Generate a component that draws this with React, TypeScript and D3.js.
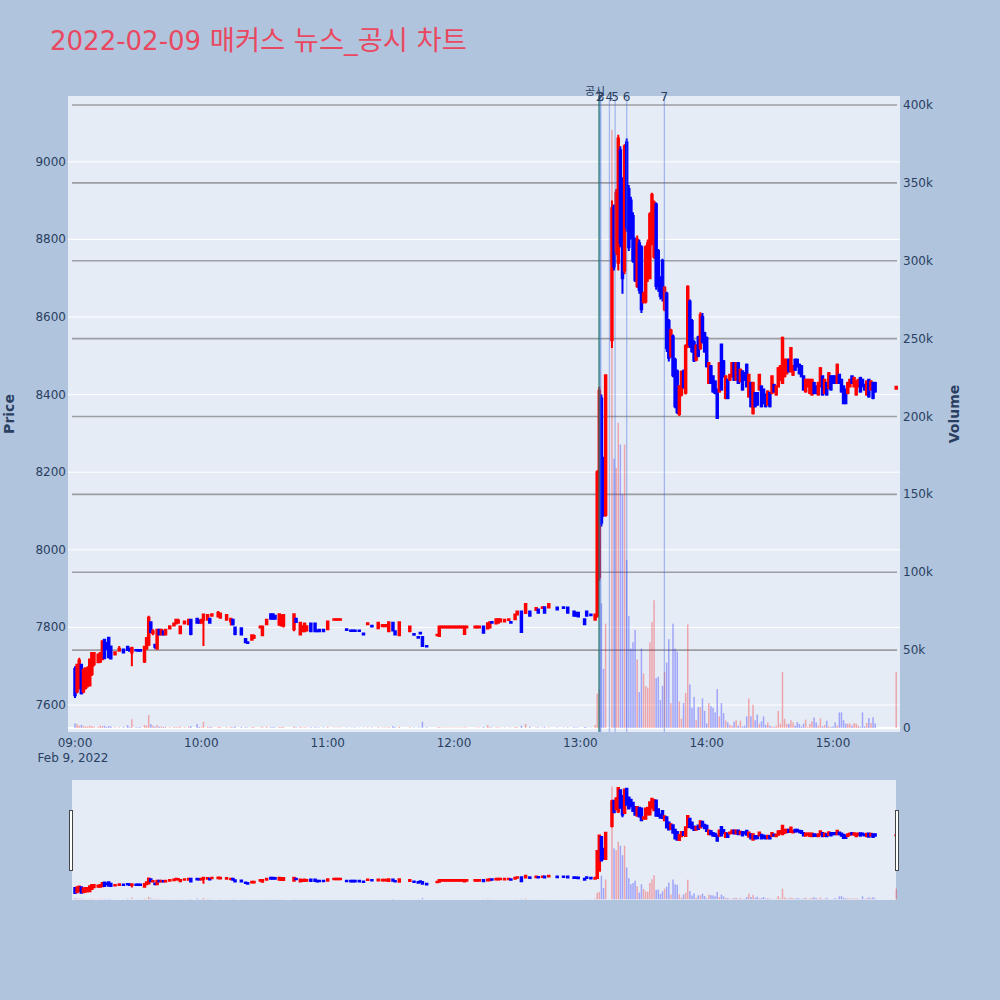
import React from "react";
import * as d3 from "d3";

type Bar = [number, number, number, number, number, number]; // minute after 09:00, open, high, low, close, volume

const morningBars: Bar[] = [
  [0, 7693, 7700, 7618, 7625, 3000], [1, 7635, 7706, 7630, 7704, 2500], [2, 7650, 7722, 7640, 7715, 1500],
  [3, 7704, 7706, 7627, 7630, 2000], [4, 7635, 7695, 7630, 7690, 1200], [5, 7644, 7697, 7640, 7695, 1000],
  [6, 7650, 7700, 7645, 7693, 900], [7, 7650, 7720, 7648, 7717, 1500], [8, 7680, 7736, 7675, 7734, 1200],
  [9, 7705, 7736, 7700, 7734, 800], [11, 7710, 7732, 7708, 7730, 600], [12, 7712, 7736, 7708, 7734, 1500],
  [13, 7718, 7766, 7716, 7764, 1200], [14, 7768, 7770, 7718, 7721, 1500], [15, 7760, 7762, 7742, 7745, 700],
  [16, 7773, 7775, 7720, 7724, 1200], [17, 7751, 7753, 7718, 7720, 1000], [19, 7730, 7738, 7728, 7736, 500],
  [21, 7740, 7752, 7738, 7745, 400], [23, 7743, 7745, 7733, 7735, 600], [25, 7750, 7752, 7740, 7742, 1800],
  [26, 7745, 7747, 7738, 7740, 500], [27, 7735, 7750, 7700, 7747, 5600], [29, 7742, 7744, 7739, 7741, 500],
  [30, 7742, 7744, 7738, 7740, 400], [31, 7742, 7744, 7738, 7740, 600], [33, 7712, 7752, 7708, 7750, 2000],
  [34, 7745, 7775, 7743, 7772, 1500], [35, 7755, 7830, 7752, 7825, 8300], [36, 7813, 7815, 7785, 7788, 2500],
  [37, 7785, 7795, 7780, 7790, 1500], [38, 7755, 7757, 7745, 7750, 800], [39, 7745, 7796, 7743, 7794, 1800],
  [40, 7794, 7796, 7780, 7782, 800], [41, 7782, 7796, 7780, 7794, 900], [42, 7790, 7792, 7780, 7782, 600],
  [43, 7782, 7796, 7780, 7794, 700], [45, 7797, 7805, 7795, 7803, 500], [47, 7805, 7812, 7803, 7810, 500],
  [48, 7810, 7822, 7808, 7820, 600], [49, 7812, 7822, 7810, 7818, 400], [50, 7785, 7805, 7783, 7802, 900],
  [52, 7810, 7818, 7808, 7815, 500], [54, 7808, 7822, 7806, 7820, 800], [55, 7820, 7822, 7780, 7783, 1200],
  [58, 7822, 7824, 7810, 7812, 2600], [59, 7818, 7820, 7810, 7812, 600], [60, 7812, 7822, 7810, 7820, 500],
  [61, 7820, 7835, 7752, 7833, 4000], [63, 7820, 7834, 7818, 7832, 800], [64, 7822, 7824, 7810, 7812, 700],
  [65, 7830, 7836, 7828, 7834, 500], [68, 7828, 7842, 7826, 7838, 600], [69, 7825, 7838, 7823, 7836, 800],
  [72, 7820, 7833, 7818, 7832, 500], [74, 7815, 7824, 7805, 7822, 700], [75, 7820, 7822, 7805, 7808, 400],
  [76, 7800, 7802, 7780, 7783, 900], [79, 7798, 7800, 7780, 7782, 600], [81, 7770, 7772, 7760, 7762, 500],
  [82, 7762, 7764, 7758, 7760, 300], [84, 7768, 7782, 7766, 7780, 600], [85, 7773, 7782, 7770, 7778, 500],
  [88, 7800, 7804, 7798, 7802, 300], [89, 7780, 7804, 7778, 7802, 800], [91, 7808, 7822, 7806, 7820, 900],
  [93, 7834, 7836, 7820, 7822, 500], [94, 7834, 7836, 7820, 7822, 500], [95, 7830, 7832, 7820, 7822, 400],
  [97, 7807, 7835, 7805, 7834, 600], [98, 7805, 7834, 7803, 7830, 700], [99, 7805, 7834, 7800, 7832, 600],
  [104, 7795, 7835, 7790, 7834, 900], [105, 7822, 7824, 7812, 7814, 400], [107, 7782, 7813, 7780, 7812, 700],
  [108, 7790, 7805, 7788, 7803, 300], [109, 7790, 7812, 7788, 7810, 400], [110, 7792, 7805, 7790, 7803, 300],
  [112, 7810, 7812, 7788, 7790, 500], [114, 7810, 7812, 7788, 7790, 500], [115, 7792, 7794, 7788, 7790, 300],
  [116, 7794, 7796, 7788, 7790, 300], [118, 7794, 7796, 7788, 7790, 400], [120, 7795, 7818, 7793, 7815, 600],
  [123, 7820, 7823, 7818, 7821, 300], [124, 7820, 7823, 7818, 7821, 200], [125, 7820, 7823, 7818, 7821, 200],
  [126, 7820, 7823, 7818, 7821, 300], [129, 7795, 7797, 7792, 7793, 300], [131, 7792, 7794, 7790, 7791, 200],
  [132, 7792, 7794, 7790, 7791, 200], [133, 7792, 7794, 7790, 7791, 300], [135, 7792, 7794, 7790, 7791, 200],
  [137, 7784, 7786, 7781, 7782, 200], [139, 7808, 7812, 7806, 7811, 400], [141, 7804, 7806, 7801, 7802, 300],
  [144, 7798, 7814, 7796, 7812, 500], [146, 7803, 7808, 7801, 7806, 300], [147, 7803, 7808, 7801, 7806, 300],
  [148, 7803, 7808, 7801, 7806, 200], [149, 7790, 7815, 7788, 7813, 600], [151, 7812, 7814, 7790, 7792, 1200],
  [152, 7790, 7792, 7780, 7782, 500], [154, 7780, 7815, 7778, 7813, 700], [159, 7790, 7803, 7788, 7802, 500],
  [161, 7783, 7785, 7780, 7781, 300], [163, 7775, 7777, 7772, 7773, 300], [164, 7786, 7788, 7783, 7784, 200],
  [165, 7775, 7777, 7750, 7752, 4000], [167, 7752, 7754, 7750, 7751, 500], [172, 7780, 7783, 7778, 7781, 300],
  [173, 7778, 7804, 7776, 7802, 600], [174, 7800, 7803, 7799, 7802, 300], [175, 7800, 7803, 7799, 7802, 300],
  [176, 7800, 7803, 7799, 7802, 300], [177, 7800, 7803, 7799, 7802, 200], [178, 7800, 7803, 7799, 7802, 300],
  [179, 7800, 7803, 7799, 7802, 300], [180, 7800, 7803, 7799, 7802, 200], [181, 7800, 7803, 7799, 7802, 300],
  [182, 7800, 7803, 7799, 7802, 300], [183, 7800, 7803, 7799, 7802, 200], [184, 7800, 7803, 7799, 7802, 300],
  [185, 7783, 7805, 7781, 7802, 400], [186, 7800, 7803, 7799, 7802, 300], [190, 7800, 7803, 7799, 7802, 200],
  [191, 7800, 7803, 7799, 7802, 200], [192, 7800, 7803, 7799, 7802, 300], [194, 7802, 7804, 7784, 7786, 600],
  [196, 7797, 7813, 7795, 7811, 1800], [197, 7800, 7815, 7798, 7813, 500], [198, 7814, 7815, 7811, 7812, 300],
  [200, 7810, 7823, 7808, 7821, 400], [201, 7812, 7823, 7810, 7821, 400], [202, 7815, 7823, 7813, 7821, 300],
  [204, 7815, 7822, 7813, 7820, 300], [206, 7819, 7822, 7818, 7821, 200], [207, 7814, 7815, 7811, 7812, 200],
  [209, 7821, 7835, 7819, 7833, 600], [210, 7833, 7843, 7831, 7841, 500], [212, 7841, 7843, 7786, 7788, 1500],
  [214, 7837, 7862, 7835, 7860, 2600], [216, 7841, 7843, 7828, 7830, 800], [219, 7845, 7852, 7843, 7850, 400],
  [220, 7846, 7848, 7836, 7838, 400], [222, 7850, 7854, 7848, 7852, 300], [223, 7852, 7854, 7836, 7838, 500],
  [225, 7851, 7862, 7849, 7860, 400], [229, 7851, 7853, 7845, 7846, 300], [232, 7852, 7853, 7849, 7850, 200],
  [234, 7851, 7853, 7836, 7838, 400], [237, 7841, 7843, 7828, 7830, 500], [238, 7838, 7840, 7828, 7830, 300],
  [239, 7838, 7840, 7826, 7828, 300], [242, 7821, 7823, 7806, 7808, 600], [243, 7841, 7843, 7828, 7830, 400],
  [245, 7833, 7835, 7830, 7831, 300],
];

const spikeBars: Bar[] = [
  [247, 7820, 7835, 7818, 7833, 2000], [248, 7830, 8205, 7825, 8200, 22000], [249, 7930, 8420, 7920, 8410, 25000],
  [250, 8390, 8400, 8060, 8070, 80000], [251, 8230, 8240, 8085, 8095, 38000], [252, 8090, 8452, 8085, 8450, 67000],
  [255, 8540, 8900, 8520, 8880, 384000], [256, 8885, 8890, 8720, 8730, 173000], [257, 8770, 8930, 8760, 8920, 167000],
  [258, 8740, 9070, 8720, 9060, 196000], [259, 9030, 9040, 8780, 8790, 182000], [260, 8950, 8960, 8660, 8700, 150000],
  [261, 8720, 9045, 8710, 9040, 182000], [262, 9050, 9060, 8820, 8830, 108000], [263, 8930, 8940, 8770, 8780, 72000],
  [264, 8900, 8910, 8800, 8810, 51000], [265, 8860, 8870, 8740, 8745, 55000], [266, 8800, 8805, 8690, 8695, 63000],
  [267, 8680, 8810, 8675, 8800, 44000], [268, 8790, 8800, 8660, 8670, 23000], [269, 8780, 8785, 8610, 8620, 51000],
  [270, 8640, 8665, 8635, 8660, 35000], [271, 8640, 8785, 8635, 8780, 27000], [272, 8700, 8800, 8690, 8790, 26000],
  [273, 8700, 8870, 8700, 8865, 55000], [274, 8790, 8920, 8785, 8915, 68000], [275, 8755, 8900, 8750, 8895, 82000],
];

const afternoonBars: Bar[] = [
  [276, 8890, 8895, 8670, 8680, 32000], [277, 8770, 8775, 8665, 8680, 33000], [278, 8700, 8705, 8645, 8655, 18000],
  [279, 8745, 8750, 8640, 8650, 27000], [280, 8620, 8680, 8615, 8675, 36000], [281, 8660, 8665, 8510, 8520, 42000],
  [282, 8590, 8595, 8485, 8495, 57000], [283, 8500, 8570, 8495, 8565, 16000], [284, 8550, 8555, 8445, 8450, 67000],
  [285, 8490, 8495, 8365, 8370, 51000], [286, 8460, 8465, 8350, 8355, 49000], [287, 8350, 8425, 8345, 8420, 17000],
  [288, 8400, 8462, 8395, 8458, 6000], [289, 8460, 8465, 8415, 8420, 16000], [290, 8405, 8530, 8400, 8525, 22500],
  [291, 8525, 8682, 8520, 8678, 66500], [292, 8640, 8645, 8520, 8528, 28000], [293, 8590, 8595, 8508, 8512, 13000],
  [294, 8535, 8540, 8484, 8488, 20000], [295, 8490, 8530, 8486, 8526, 5000], [296, 8548, 8552, 8496, 8500, 13500],
  [297, 8520, 8612, 8515, 8605, 13500], [298, 8600, 8610, 8532, 8537, 19000], [299, 8558, 8562, 8508, 8511, 11000],
  [300, 8546, 8550, 8470, 8473, 3000], [301, 8430, 8484, 8427, 8481, 16000], [302, 8473, 8476, 8427, 8430, 14000],
  [303, 8447, 8450, 8405, 8408, 13000], [304, 8434, 8437, 8401, 8404, 10000], [305, 8413, 8416, 8338, 8340, 25000],
  [306, 8408, 8484, 8405, 8481, 7500], [307, 8529, 8532, 8410, 8413, 16000], [308, 8486, 8489, 8444, 8447, 9500],
  [309, 8391, 8450, 8388, 8447, 4700], [310, 8438, 8441, 8388, 8391, 3600], [311, 8438, 8454, 8435, 8451, 2000],
  [312, 8447, 8484, 8444, 8481, 1500], [313, 8481, 8484, 8435, 8438, 4000], [314, 8438, 8484, 8435, 8481, 5000],
  [315, 8481, 8484, 8427, 8430, 1500], [316, 8434, 8467, 8431, 8464, 4700], [317, 8460, 8463, 8410, 8413, 1000],
  [318, 8455, 8458, 8435, 8438, 1500], [319, 8477, 8480, 8418, 8421, 7500], [320, 8395, 8454, 8392, 8451, 19000],
  [321, 8430, 8433, 8367, 8370, 7500], [322, 8352, 8433, 8349, 8430, 15000], [323, 8404, 8407, 8367, 8370, 5000],
  [324, 8404, 8407, 8371, 8374, 8600], [325, 8413, 8454, 8410, 8451, 2800], [326, 8421, 8424, 8367, 8370, 4300],
  [327, 8413, 8416, 8375, 8378, 7500], [328, 8400, 8403, 8367, 8370, 2000], [329, 8374, 8411, 8371, 8408, 3600],
  [330, 8404, 8407, 8367, 8370, 1500], [331, 8404, 8450, 8401, 8447, 1000], [332, 8425, 8428, 8405, 8408, 600],
  [333, 8400, 8424, 8397, 8421, 1500], [334, 8421, 8471, 8418, 8468, 11000], [335, 8438, 8476, 8435, 8473, 2800],
  [336, 8430, 8550, 8427, 8546, 36000], [337, 8447, 8493, 8444, 8490, 6000], [338, 8455, 8493, 8452, 8490, 2800],
  [339, 8490, 8493, 8457, 8460, 2600], [340, 8460, 8523, 8457, 8520, 5000], [341, 8451, 8476, 8448, 8473, 3600],
  [342, 8490, 8493, 8461, 8464, 1500], [343, 8490, 8493, 8470, 8473, 3800], [344, 8477, 8480, 8452, 8455, 2600],
  [345, 8473, 8476, 8444, 8447, 1000], [346, 8447, 8450, 8410, 8413, 2800], [347, 8408, 8441, 8405, 8438, 5400],
  [348, 8421, 8441, 8418, 8438, 600], [349, 8404, 8441, 8401, 8438, 2800], [350, 8400, 8441, 8397, 8438, 4300],
  [351, 8430, 8433, 8401, 8404, 6700], [352, 8421, 8424, 8401, 8404, 3600], [353, 8400, 8433, 8397, 8430, 1500],
  [354, 8421, 8471, 8418, 8468, 6200], [355, 8447, 8450, 8397, 8400, 1000], [356, 8404, 8441, 8401, 8438, 2000],
  [357, 8430, 8433, 8397, 8400, 4700], [358, 8417, 8458, 8414, 8455, 1000], [359, 8447, 8450, 8410, 8413, 600],
  [360, 8447, 8450, 8427, 8430, 1000], [361, 8447, 8450, 8427, 8430, 3600], [362, 8430, 8480, 8427, 8477, 1500],
  [363, 8451, 8454, 8427, 8430, 10000], [364, 8438, 8441, 8405, 8408, 10000], [365, 8421, 8424, 8375, 8378, 5000],
  [366, 8413, 8416, 8375, 8378, 2800], [367, 8404, 8433, 8401, 8430, 2800], [368, 8421, 8441, 8418, 8438, 2800],
  [369, 8447, 8450, 8427, 8430, 1500], [370, 8421, 8446, 8418, 8443, 3200], [371, 8400, 8437, 8397, 8434, 2800],
  [372, 8421, 8441, 8418, 8438, 1500], [373, 8443, 8446, 8405, 8408, 600], [374, 8438, 8441, 8418, 8421, 10000],
  [375, 8425, 8428, 8410, 8413, 1000], [376, 8400, 8437, 8397, 8434, 3200], [377, 8438, 8441, 8392, 8395, 6400],
  [378, 8413, 8437, 8410, 8434, 3200], [379, 8430, 8433, 8388, 8391, 6900], [380, 8430, 8433, 8405, 8408, 3000],
];

const closingBars: Bar[] = [[390, 8415, 8421, 8414, 8420, 36000]];

const priceTicks = [7600, 7800, 8000, 8200, 8400, 8600, 8800, 9000];
const volumeTicks = [0, 50000, 100000, 150000, 200000, 250000, 300000, 350000, 400000];
const volumeTickLabels = ["0", "50k", "100k", "150k", "200k", "250k", "300k", "350k", "400k"];

// event markers (minutes after 09:00)
const noticeLine = { label: "공시", minute: 248.9 };
const newsLabels = ["1", "2", "3", "4", "5", "6", "7"];
const newsMinutes = [248.9, 249.3, 249.7, 253.8, 256.5, 262.0, 279.9];

const titleDate = "2022-02-09";
const titleRest = " 매커스 뉴스_공시 차트";
const dateLabel = "Feb 9, 2022";

const base = new Date(2022, 1, 9, 9, 0, 0).getTime();
const toTime = (m: number) => new Date(base + m * 60000);

const RED = "#ff0000";
const BLUE = "#0000ff";
const FONT = "'DejaVu Sans', 'Noto Sans CJK KR', sans-serif";
const TXT = "#2a3f5f";

function candlePaths(bars: Bar[], x: (d: Date) => number, y: (v: number) => number, keyp: string) {
  const w = 0.74;
  return bars.map(([m, o, h, l, c]) => {
    const cx = x(toTime(m));
    const col = c > o ? RED : BLUE;
    let top = Math.min(y(o), y(c));
    let bot = Math.max(y(o), y(c));
    if (bot - top < 0.6) bot = top + 0.6;
    const d = `M${cx - w},${top}H${cx + w}V${bot}H${cx - w}Z M${cx},${top}V${y(h)} M${cx},${bot}V${y(l)}`;
    return <path key={keyp + m} d={d} stroke={col} strokeWidth={2} fill={col} />;
  });
}

function volumeRects(bars: Bar[], x: (d: Date) => number, y: (v: number) => number, keyp: string) {
  const bw = 1.5;
  return bars.map(([m, o, , , c, v]) => {
    const cx = x(toTime(m));
    const col = c > o ? RED : BLUE;
    const y0 = y(0);
    const y1 = y(v);
    return <rect key={keyp + m} x={cx - bw / 2} y={y1} width={bw} height={Math.max(0, y0 - y1)} fill={col} opacity={0.3} />;
  });
}

export default function App() {
  const bars = [...morningBars, ...spikeBars, ...afternoonBars, ...closingBars];
  const L = 68, R = 900, T = 96, B = 732;
  const x = d3.scaleTime().domain([toTime(-3.33), toTime(391.8)]).range([L, R]);
  const yP = d3.scaleLinear().domain([7530.4, 9169.6]).range([B, T]);
  const yV = d3.scaleLinear().domain([-2568, 405780]).range([B, T]);
  const sT = 780, sB = 900;
  const yPs = yP.copy().range([sB, sT]);
  const yVs = yV.copy().range([sB, sT]);
  const hourTicks = x.ticks(d3.timeHour.every(1) as any);
  const fmt = d3.timeFormat("%H:%M");

  return (
    <svg width={1000} height={1000} style={{ position: "absolute", left: 0, top: 0 }} fontFamily={FONT}>
      <defs>
        <clipPath id="mainClip"><rect x={L} y={T} width={R - L} height={B - T} /></clipPath>
        <clipPath id="sliderClip"><rect x={L} y={sT} width={R - L} height={sB - sT} /></clipPath>
      </defs>
      <rect x={0} y={0} width={1000} height={1000} fill="#b0c4de" />
      <text x={50} y={50} fontSize={26} fill="#ea4860">
        {titleDate}
        <tspan fontSize={27.3}>{titleRest}</tspan>
      </text>

      {/* main plot */}
      <rect x={L} y={T} width={R - L} height={B - T} fill="#e5ecf6" />
      {priceTicks.map((p) => (
        <line key={"pg" + p} x1={L} x2={R} y1={yP(p)} y2={yP(p)} stroke="#ffffff" strokeWidth={1} />
      ))}
      {volumeTicks.filter((v) => v > 0).map((v) => (
        <line key={"vg" + v} x1={72} x2={897} y1={yV(v)} y2={yV(v)} stroke="#9c9ea3" strokeWidth={1.6} />
      ))}
      <line x1={L} x2={R} y1={yV(0)} y2={yV(0)} stroke="#ffffff" strokeWidth={2} />
      <g clipPath="url(#mainClip)">
        {volumeRects(bars, x, yV, "v")}
        {candlePaths(bars, x, yP, "c")}
        <line x1={x(toTime(noticeLine.minute))} x2={x(toTime(noticeLine.minute))} y1={T} y2={B}
          stroke="green" strokeOpacity={0.5} strokeWidth={2} />
        {newsMinutes.map((m, i) => (
          <line key={"nl" + i} x1={x(toTime(m))} x2={x(toTime(m))} y1={T} y2={B}
            stroke="royalblue" strokeOpacity={0.4} strokeWidth={1.3} />
        ))}
      </g>
      <text x={x(toTime(noticeLine.minute)) - 4} y={95} fontSize={11} fill={TXT} textAnchor="middle">{noticeLine.label}</text>
      {newsMinutes.map((m, i) => (
        <text key={"nt" + i} x={x(toTime(m))} y={101} fontSize={12} fill={TXT} textAnchor="middle">{newsLabels[i]}</text>
      ))}

      {/* axes labels */}
      {priceTicks.map((p) => (
        <text key={"pt" + p} x={66} y={yP(p) + 4} fontSize={12} fill={TXT} textAnchor="end">{p}</text>
      ))}
      {volumeTicks.map((v, i) => (
        <text key={"vt" + v} x={903} y={yV(v) + 4} fontSize={12} fill={TXT} textAnchor="start">{volumeTickLabels[i]}</text>
      ))}
      {hourTicks.map((d, i) => (
        <text key={"xt" + i} x={x(d)} y={747} fontSize={12} fill={TXT} textAnchor="middle">{fmt(d)}</text>
      ))}
      <text x={x(toTime(0)) - 2} y={762} fontSize={12} fill={TXT} textAnchor="middle">{dateLabel}</text>
      <text transform="translate(14,414) rotate(-90)" fontSize={14} fontWeight="bold" fill={TXT} textAnchor="middle">Price</text>
      <text transform="translate(959,414) rotate(-90)" fontSize={14} fontWeight="bold" fill={TXT} textAnchor="middle">Volume</text>

      {/* range slider */}
      <rect x={72} y={sT} width={824} height={sB - sT} fill="#e5ecf6" />
      <g clipPath="url(#sliderClip)">
        {volumeRects(bars, x, yVs, "sv")}
        {candlePaths(bars, x, yPs, "sc")}
      </g>
      <rect x={69.5} y={810.5} width={3} height={60} fill="#ffffff" stroke="#444" strokeWidth={1} />
      <rect x={895.5} y={810.5} width={3} height={60} fill="#ffffff" stroke="#444" strokeWidth={1} />
    </svg>
  );
}
